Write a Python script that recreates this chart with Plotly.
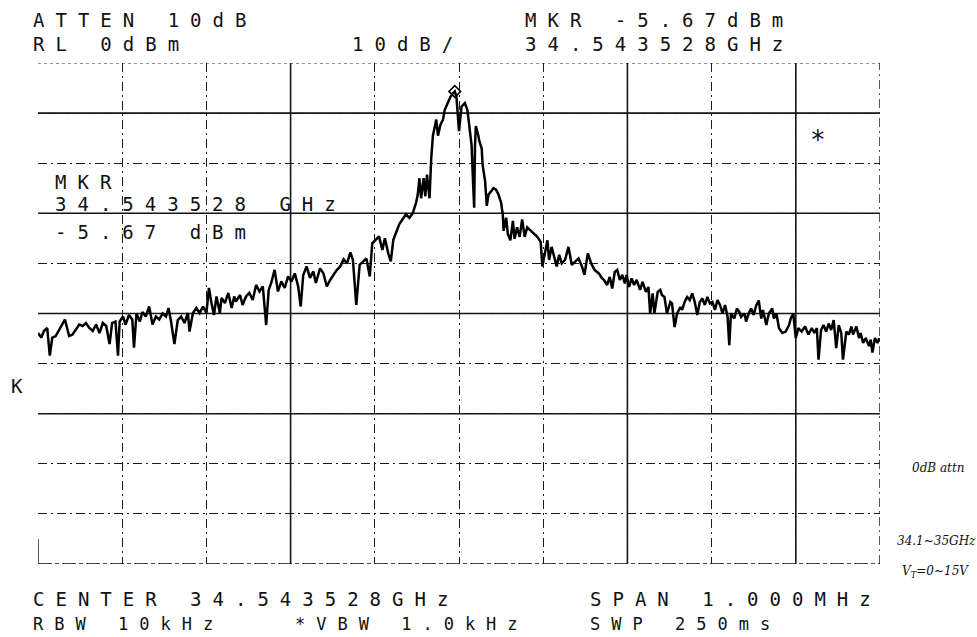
import plotly.graph_objects as go

# ---- Trace data (frequency offset from centre in kHz, level in dBm) ----
FREQ_KHZ = [
    -500, -496, -493, -489, -486, -483, -479, -475, -471, -468,
    -465, -463, -459, -455, -451, -447, -443, -439, -435, -431,
    -427, -423, -419, -415, -412, -408, -405, -403, -399, -396,
    -392, -388, -386, -383, -379, -376, -372, -368, -364, -360,
    -356, -352, -348, -345, -342, -338,
    -334, -330, -326, -322, -320, -316, -312, -308, -304, -300,
    -297, -294, -291, -288, -284, -282, -278, -274, -270, -267,
    -265, -260, -257, -253, -249, -245, -241, -237, -233, -229,
    -226, -223, -219, -215, -211, -207, -203, -199, -195, -191,
    -188, -185, -181, -177, -173, -170, -165,
    -161, -157, -153, -149, -145, -141, -137, -133, -129, -126,
    -122, -118, -114, -110, -106, -103, -99, -95, -91, -88,
    -84, -81, -78, -75, -71, -67, -63, -59, -55, -51,
    -49, -47, -45, -42, -40, -38, -35, -33, -31, -27,
    -25, -22, -19, -17, -13, -10, -7, -5, -3, 0,
    3,
    7, 10, 12, 15, 16, 18, 19, 20, 23, 24,
    27, 28, 31, 33, 35, 38, 41, 44, 47, 50,
    52, 53, 56, 58, 61, 64, 66, 69, 72, 75,
    78, 81, 85, 89, 93, 97, 99, 102, 105, 107,
    110, 114, 116, 119, 122, 126, 130, 134, 138, 142,
    146, 149, 153, 157, 161, 166, 170,
    172, 176, 179, 182, 185, 188, 191, 194, 197, 199,
    202, 205, 208, 211, 215, 218, 222, 225, 227, 230,
    232, 236, 239, 241, 244, 247, 251, 253, 256, 259,
    263, 265, 268, 271, 274, 277, 280, 283, 286, 289,
    292, 295, 298, 301, 304, 307, 310, 313, 316, 319,
    321, 323, 327, 330, 333, 335, 339,
    341, 344, 347, 350, 353, 356, 359, 361, 365, 368,
    372, 374, 377, 380, 384, 388, 392, 394, 397, 400,
    403, 407, 411, 415, 419, 422, 425, 427, 430, 433,
    436, 439, 442, 445, 448, 451, 454, 456, 460, 463,
    466, 468, 472, 475, 477, 480, 483, 487, 489, 491,
    494, 497, 499,
]

LEVEL_DBM = [
    -53.9, -54.8, -53.5, -52.9, -58.4, -54.8, -54.5, -53.2, -52.2, -51.2,
    -53.2, -54.5, -54.2, -53.2, -52.2, -52.5, -51.9, -52.9, -53.5, -52.2,
    -53.9, -51.9, -52.5, -56.1, -51.9, -51.6, -58.4, -51.6, -50.6, -52.2,
    -50.3, -51.2, -56.8, -50.0, -51.6, -49.7, -50.6, -48.6, -52.2, -50.6,
    -51.2, -50.0, -50.6, -48.9, -51.6, -56.1,
    -51.3, -50.6, -51.9, -49.9, -53.6, -49.9, -48.9, -49.9, -48.6, -49.9,
    -44.9, -47.9, -50.3, -46.6, -49.9, -46.9, -47.9, -45.9, -48.9, -46.6,
    -47.6, -46.3, -48.3, -46.6, -45.9, -47.3, -44.3, -45.6, -44.6, -52.3,
    -45.3, -43.9, -41.3, -45.6, -43.6, -44.9, -42.6, -43.6, -42.0, -44.6,
    -48.6, -42.3, -40.6, -42.9, -41.6, -43.9, -41.0,
    -42.0, -44.6, -43.3, -42.3, -41.3, -40.6, -39.2, -40.0, -37.8, -39.3,
    -48.3, -40.3, -39.6, -39.0, -42.6, -36.0, -35.3, -34.6, -37.3, -35.0,
    -38.0, -39.6, -35.3, -33.8, -32.2, -31.2, -30.2, -30.9, -30.0, -27.9,
    -26.3, -23.0, -27.0, -23.0, -26.6, -22.3, -27.0, -19.1, -14.5, -11.3,
    -14.5, -12.3, -11.3, -9.4, -7.7, -6.7, -6.0, -5.67, -6.8, -13.6,
    -8.7,
    -8.0, -9.4, -12.0, -16.5, -21.0, -28.9, -16.5, -12.6, -14.5, -15.5,
    -17.1, -20.3, -23.6, -28.5, -26.3, -25.6, -25.0, -25.3, -26.3, -27.9,
    -30.2, -33.5, -30.9, -34.1, -35.4, -31.5, -35.1, -32.8, -34.7, -31.2,
    -34.7, -32.8, -33.5, -34.1, -34.7, -35.7, -40.6, -38.0, -35.4, -39.3,
    -36.7, -39.3, -40.6, -38.3, -40.0, -39.3, -36.7, -40.3, -39.6, -39.0,
    -40.6, -42.3, -38.0, -40.0, -41.3, -42.0, -43.0,
    -43.3, -44.3, -42.7, -45.0, -41.7, -41.3, -43.3, -42.3, -44.0, -42.3,
    -44.7, -43.0, -44.3, -43.3, -45.3, -43.7, -45.7, -44.7, -50.0, -46.0,
    -50.0, -45.7, -45.3, -46.3, -46.7, -50.0, -47.7, -48.0, -52.7, -50.0,
    -48.7, -49.3, -47.7, -46.7, -47.3, -46.0, -47.7, -50.3, -47.7, -47.0,
    -48.3, -46.7, -48.0, -47.7, -49.3, -47.3, -48.3, -50.0, -48.3, -50.7,
    -56.3, -50.0, -51.0, -49.0, -49.7, -50.7, -50.0,
    -51.6, -50.0, -49.0, -50.3, -48.4, -47.4, -51.0, -49.3, -52.3, -50.0,
    -49.0, -51.0, -50.0, -52.9, -53.9, -53.6, -52.3, -51.0, -50.0, -54.9,
    -52.9, -53.6, -52.6, -54.2, -52.9, -53.9, -52.9, -59.2, -53.3, -52.3,
    -53.6, -52.0, -53.3, -51.3, -56.9, -52.3, -53.9, -59.2, -53.6, -54.2,
    -52.6, -54.2, -52.6, -54.9, -53.9, -55.9, -54.9, -56.5, -55.2, -57.8,
    -54.9, -55.9, -54.9,
]

MARKER_FREQ = [-5]
MARKER_LEVEL = [-5.67]

SPAN_KHZ = [-500, 500]
LEVEL_RANGE = [-100, 0]
SOLID_LEVELS = [-10, -30, -50, -70]
SOLID_FREQS = [-200, 200, 400]

# ---- text ----
HEADER_LEFT_1 = "ATTEN 10dB"
HEADER_RIGHT_1 = "MKR -5.67dBm"
HEADER_LEFT_2 = "RL 0dBm"
HEADER_MID_2 = "10dB/"
HEADER_RIGHT_2 = "34.543528GHz"
MKR_LINES = ["MKR", "34.543528 GHz", "-5.67 dBm"]
FOOT_1 = ["CENTER 34.543528GHz", "SPAN 1.000MHz"]
FOOT_2 = ["RBW 10kHz", "*VBW 1.0kHz", "SWP 250ms"]
NOTES = ["0dB attn", "34.1~35GHz", "V<sub>T</sub>=0~15V"]

W, H = 977, 637
L, R, T, B = 38, 97, 63, 73
PW, PH = W - L - R, H - T - B


def px(xp):
    return (xp - L) / PW


def py(yp):
    return (H - B - yp) / PH


FONT = "DejaVu Sans Mono"
FS = 19
SP = 11


def spaced(s):
    return '<span style="letter-spacing:%dpx">%s</span>' % (SP, s)


fig = go.Figure()
fig.add_trace(go.Scatter(
    x=FREQ_KHZ, y=LEVEL_DBM, mode="lines",
    line=dict(color="#000000", width=2.5), hoverinfo="skip", showlegend=False,
))
fig.add_trace(go.Scatter(
    x=MARKER_FREQ, y=MARKER_LEVEL, mode="markers",
    marker=dict(symbol="diamond-open", size=9, color="#000000", line=dict(width=1.6)),
    hoverinfo="skip", showlegend=False,
))

GRID_DASH = "9px,4px,2px,4px"
grid_style = dict(
    showgrid=True, gridcolor="#1a1a1a", gridwidth=1, griddash=GRID_DASH,
    zeroline=False, showticklabels=False, ticks="", showline=False,
)
fig.update_xaxes(range=SPAN_KHZ, dtick=100, tick0=0, **grid_style)
fig.update_yaxes(range=LEVEL_RANGE, dtick=10, tick0=0, **grid_style)

shapes = []
for lv in SOLID_LEVELS:
    shapes.append(dict(type="line", xref="paper", yref="y", x0=0, x1=1, y0=lv, y1=lv,
                       line=dict(color="#111111", width=1.6), layer="below"))
for fq in SOLID_FREQS:
    shapes.append(dict(type="line", xref="x", yref="paper", x0=fq, x1=fq, y0=0, y1=1,
                       line=dict(color="#111111", width=1.6), layer="below"))
# frame edges of the graticule
shapes.append(dict(type="line", xref="paper", yref="y", x0=0, x1=1,
                   y0=LEVEL_RANGE[1], y1=LEVEL_RANGE[1],
                   line=dict(color="#222222", width=1.2, dash="3px,3px"), layer="below"))
shapes.append(dict(type="line", xref="paper", yref="y", x0=0, x1=1,
                   y0=LEVEL_RANGE[0], y1=LEVEL_RANGE[0],
                   line=dict(color="#111111", width=1.4, dash="14px,3px,4px,3px"), layer="below"))
shapes.append(dict(type="line", xref="x", yref="paper", x0=SPAN_KHZ[1], x1=SPAN_KHZ[1],
                   y0=0, y1=1, line=dict(color="#111111", width=1.4, dash=GRID_DASH),
                   layer="below"))
shapes.append(dict(type="line", xref="x", yref="paper", x0=SPAN_KHZ[0], x1=SPAN_KHZ[0],
                   y0=0, y1=0.05, line=dict(color="#111111", width=1.4), layer="below"))

annotations = []


def add_text(text, xp, yp, size=FS, anchor="left", family=FONT, spacing=True):
    annotations.append(dict(
        text=spaced(text) if spacing else text, xref="paper", yref="paper",
        x=px(xp), y=py(yp), xanchor=anchor, yanchor="middle", showarrow=False,
        font=dict(family=family, size=size, color="#111111"),
    ))


add_text(HEADER_LEFT_1, 31, 20)
add_text(HEADER_RIGHT_1, 523, 20)
add_text(HEADER_LEFT_2, 31, 44)
add_text(HEADER_MID_2, 350, 44)
add_text(HEADER_RIGHT_2, 523, 44)
for txt, yy in zip(MKR_LINES, [182, 204, 232]):
    add_text(txt, 53, yy)
add_text(FOOT_1[0], 31, 599)
add_text(FOOT_1[1], 588, 599)
for txt, xx in zip(FOOT_2, [31, 293, 588]):
    add_text(txt, xx, 624, size=17)
add_text("K", 9, 386)
add_text("*", 818, 140, size=26, anchor="center", spacing=False)
for txt, xx, yy in zip(NOTES, [938, 937, 935], [468, 541, 572]):
    annotations.append(dict(
        text=txt, xref="paper", yref="paper", x=px(xx), y=py(yy),
        xanchor="center", yanchor="middle", showarrow=False,
        font=dict(family="DejaVu Serif", size=12, color="#111111", style="italic"),
    ))

fig.update_layout(
    width=W, height=H, margin=dict(l=L, r=R, t=T, b=B),
    paper_bgcolor="white", plot_bgcolor="white",
    shapes=shapes, annotations=annotations, showlegend=False,
)

fig.write_html("out.html", config={"displayModeBar": False})
